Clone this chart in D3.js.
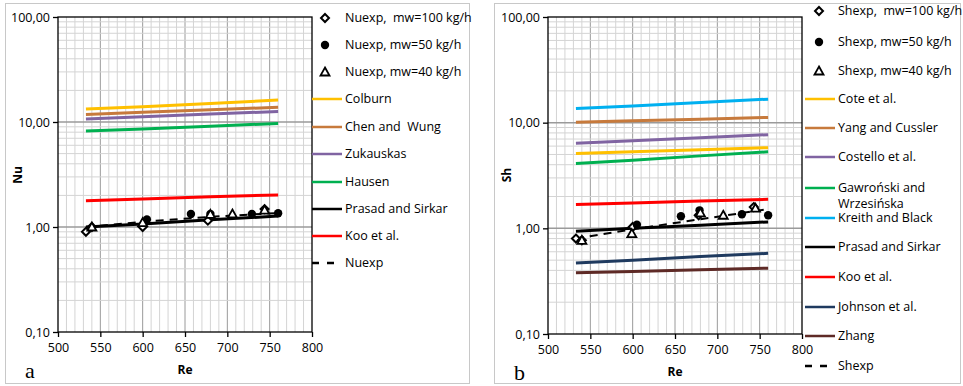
<!DOCTYPE html>
<html>
<head>
<meta charset="utf-8">
<script src="https://cdn.jsdelivr.net/npm/d3@7"></script>
<style>
  body { margin: 0; background: #fff; }
  text { font-family: "Open Sans", "Noto Sans", sans-serif; }
</style>
</head>
<body>
<div id="fig"></div>
<script>
const fig_width = 963
const fig_height = 386

const re_points = [533, 600, 680, 760]

// panel a: Nu correlations
const nu_colburn = [13.3, 14.0, 15.0, 16.2]
const nu_chen = [11.8, 12.4, 13.1, 13.8]
const nu_zukauskas = [10.7, 11.2, 11.9, 12.6]
const nu_hausen = [8.2, 8.6, 9.1, 9.7]
const nu_prasad = [1.0, 1.07, 1.17, 1.27]
const nu_koo = [1.78, 1.85, 1.94, 2.02]
const nu_exp_trend = [1.0, 1.12, 1.25, 1.36]

// panel a: measured points [Re, Nu]
const nu_mw100 = [[533, 0.90], [540, 1.0], [600, 1.0], [677, 1.15], [744, 1.48]]
const nu_mw50 = [[605, 1.18], [657, 1.33], [680, 1.33], [729, 1.33], [760, 1.35]]
const nu_mw40 = [[540, 1.0], [600, 1.1], [680, 1.32], [706, 1.33], [744, 1.45]]

// panel b: Sh correlations
const sh_cote = [5.1, 5.3, 5.55, 5.8]
const sh_yang = [10.1, 10.4, 10.8, 11.2]
const sh_costello = [6.4, 6.75, 7.2, 7.7]
const sh_gawronski = [4.1, 4.4, 4.85, 5.3]
const sh_kreith = [13.6, 14.4, 15.5, 16.7]
const sh_prasad = [0.94, 1.0, 1.07, 1.15]
const sh_koo = [1.68, 1.74, 1.81, 1.88]
const sh_johnson = [0.47, 0.50, 0.54, 0.58]
const sh_zhang = [0.38, 0.39, 0.405, 0.42]
const sh_exp_trend = [0.80, 0.98, 1.22, 1.52]

// panel b: measured points [Re, Sh]
const sh_mw100 = [[533, 0.80], [540, 0.77], [600, 1.03], [678, 1.33], [743, 1.59]]
const sh_mw50 = [[605, 1.08], [657, 1.30], [679, 1.48], [729, 1.36], [760, 1.33]]
const sh_mw40 = [[540, 0.77], [599, 0.89], [680, 1.40], [707, 1.33], [745, 1.55]]

const x_ticks = [500, 550, 600, 650, 700, 750, 800]
const y_ticks = [0.1, 1, 10, 100]

const col = {
    yellow: '#FFC000', orange: '#C77A3C', purple: '#8064A2', green: '#00B050',
    red: '#FF0000', black: '#000000', blue: '#00B0F0', navy: '#1F3A5F', brown: '#5E2A26'
}

const panels = [
    {
        box: [5, 3, 464, 380], plot: [58, 17, 312, 332], ylabel: 'Nu', letter: 'a',
        lines: [
            {name: 'Colburn', v: nu_colburn, c: col.yellow},
            {name: 'Chen and  Wung', v: nu_chen, c: col.orange},
            {name: 'Zukauskas', v: nu_zukauskas, c: col.purple},
            {name: 'Hausen', v: nu_hausen, c: col.green},
            {name: 'Prasad and Sirkar', v: nu_prasad, c: col.black},
            {name: 'Koo et al.', v: nu_koo, c: col.red}
        ],
        trend: {name: 'Nuexp', v: nu_exp_trend},
        points: [
            {name: 'Nuexp,  mw=100 kg/h', d: nu_mw100, s: 'diamond'},
            {name: 'Nuexp, mw=50 kg/h', d: nu_mw50, s: 'circle'},
            {name: 'Nuexp, mw=40 kg/h', d: nu_mw40, s: 'triangle'}
        ],
        legend: {x: 312, sym: 325, tx: 345, rows: [18, 45, 72, 99, 127, 154, 182, 209, 236, 263]}
    },
    {
        box: [494, 3, 466, 380], plot: [548, 17, 802, 334], ylabel: 'Sh', letter: 'b',
        lines: [
            {name: 'Cote et al.', v: sh_cote, c: col.yellow},
            {name: 'Yang and Cussler', v: sh_yang, c: col.orange},
            {name: 'Costello et al.', v: sh_costello, c: col.purple},
            {name: 'Gawroński and|Wrzesińska', v: sh_gawronski, c: col.green},
            {name: 'Kreith and Black', v: sh_kreith, c: col.blue},
            {name: 'Prasad and Sirkar', v: sh_prasad, c: col.black},
            {name: 'Koo et al.', v: sh_koo, c: col.red},
            {name: 'Johnson et al.', v: sh_johnson, c: col.navy},
            {name: 'Zhang', v: sh_zhang, c: col.brown}
        ],
        trend: {name: 'Shexp', v: sh_exp_trend},
        points: [
            {name: 'Shexp,  mw=100 kg/h', d: sh_mw100, s: 'diamond'},
            {name: 'Shexp, mw=50 kg/h', d: sh_mw50, s: 'circle'},
            {name: 'Shexp, mw=40 kg/h', d: sh_mw40, s: 'triangle'}
        ],
        legend: {x: 805, sym: 819, tx: 838, rows: [11, 42, 71, 99, 128, 157, 188, 218, 247, 277, 307, 336, 366]}
    }
]

let svg = d3.select('#fig').append('svg')
    .attr('width', fig_width)
    .attr('height', fig_height)

const comma = v => d3.format('.2f')(v).replace('.', ',')

function drawMarker(g, shape, x, y) {
    if (shape === 'circle') {
        g.append('circle').attr('cx', x).attr('cy', y).attr('r', 4.2).attr('fill', '#000')
    } else if (shape === 'diamond') {
        g.append('path').attr('d', 'M0,-4L4,0L0,4L-4,0Z')
            .attr('transform', `translate(${x},${y})`)
            .attr('fill', '#fff').attr('stroke', '#000').attr('stroke-width', 2)
    } else {
        g.append('path').attr('d', 'M0,-4.5L4.5,3.5L-4.5,3.5Z')
            .attr('transform', `translate(${x},${y})`)
            .attr('fill', '#fff').attr('stroke', '#000').attr('stroke-width', 1.8)
    }
}

function drawPanel(p) {
    let g = svg.append('g')
    g.append('rect')
        .attr('x', p.box[0] + 0.5).attr('y', p.box[1] + 0.5)
        .attr('width', p.box[2]).attr('height', p.box[3])
        .attr('fill', '#fff').attr('stroke', '#C8C8C8')

    let [x0, y0, x1, y1] = p.plot
    let x = d3.scaleLinear().domain([500, 800]).range([x0, x1])
    let y = d3.scaleLog().domain([0.1, 100]).range([y1, y0])

    // grid: minor every 10 on x, 2..9 per decade on y
    let grid = g.append('g')
    d3.range(510, 800, 10).forEach(v => {
        grid.append('line').attr('x1', x(v)).attr('x2', x(v)).attr('y1', y0).attr('y2', y1)
            .attr('stroke', v % 50 === 0 ? '#9A9A9A' : '#D4D4D4').attr('stroke-width', 1)
    })
    ;[0.1, 1, 10].forEach(dec => {
        d3.range(2, 10).forEach(m => {
            grid.append('line').attr('x1', x0).attr('x2', x1).attr('y1', y(dec * m)).attr('y2', y(dec * m))
                .attr('stroke', '#D4D4D4')
        })
    })
    ;[1, 10].forEach(v => {
        grid.append('line').attr('x1', x0).attr('x2', x1).attr('y1', y(v)).attr('y2', y(v))
            .attr('stroke', '#9A9A9A').attr('stroke-width', 1.5)
    })

    // frame
    g.append('rect').attr('x', x0).attr('y', y0).attr('width', x1 - x0).attr('height', y1 - y0)
        .attr('fill', 'none').attr('stroke', '#000').attr('stroke-width', 1.3)

    let xAxis = g.append('g').attr('transform', `translate(0,${y1})`)
        .call(d3.axisBottom(x).tickValues(x_ticks).tickSize(5).tickPadding(6))
    let yAxis = g.append('g').attr('transform', `translate(${x0},0)`)
        .call(d3.axisLeft(y).tickValues(y_ticks).tickFormat(comma).tickSize(5).tickPadding(3))
    ;[xAxis, yAxis].forEach(a => {
        a.select('.domain').remove()
        a.selectAll('line').attr('stroke', '#000').attr('stroke-width', 1.3)
        a.selectAll('text').attr('font-size', 12.5).attr('fill', '#000')
            .style('font-family', '"Open Sans", sans-serif')
    })

    g.append('text').attr('x', (x0 + x1) / 2).attr('y', y1 + 42).attr('text-anchor', 'middle')
        .attr('font-size', 12).attr('font-weight', 'bold').text('Re')
    g.append('text').attr('transform', `translate(${p.box[0] + 17},${175}) rotate(-90)`)
        .attr('text-anchor', 'middle').attr('font-size', 12).attr('font-weight', 'bold').text(p.ylabel)
    g.append('text').attr('x', p.box[0] + 20).attr('y', y1 + 46)
        .style('font-family', '"Liberation Serif", serif').attr('font-size', 22).text(p.letter)

    let lineGen = d3.line().x(d => x(d[0])).y(d => y(d[1]))
    p.lines.forEach(l => {
        g.append('path').datum(re_points.map((r, i) => [r, l.v[i]]))
            .attr('d', lineGen).attr('fill', 'none').attr('stroke', l.c).attr('stroke-width', 3)
    })
    g.append('path').datum(re_points.map((r, i) => [r, p.trend.v[i]]))
        .attr('d', lineGen).attr('fill', 'none').attr('stroke', '#000').attr('stroke-width', 2)
        .attr('stroke-dasharray', '8,6')

    p.points.forEach(s => {
        s.d.forEach(d => drawMarker(g, s.s, x(d[0]), y(d[1])))
    })

    // legend
    let lg = g.append('g')
    let rows = p.legend.rows
    let ri = 0
    const label = (txt, yy) => {
        lg.append('text').attr('x', p.legend.tx).attr('y', yy).attr('dy', '0.35em')
            .attr('font-size', 12.5).style('white-space', 'pre').text(txt)
    }
    p.points.forEach(s => {
        drawMarker(lg, s.s, p.legend.sym, rows[ri])
        label(s.name, rows[ri])
        ri++
    })
    p.lines.forEach(l => {
        let parts = l.name.split('|')
        lg.append('line').attr('x1', p.legend.x).attr('x2', p.legend.x + 30)
            .attr('y1', rows[ri]).attr('y2', rows[ri])
            .attr('stroke', l.c).attr('stroke-width', 2.5)
        label(parts[0], rows[ri])
        if (parts.length > 1) label(parts[1], rows[ri] + 15.5)
        ri++
    })
    lg.append('line').attr('x1', p.legend.x).attr('x2', p.legend.x + 30)
        .attr('y1', rows[ri]).attr('y2', rows[ri])
        .attr('stroke', '#000').attr('stroke-width', 2.5).attr('stroke-dasharray', '7,8')
    label(p.trend.name, rows[ri])
}

panels.forEach(drawPanel)
</script>
</body>
</html>
